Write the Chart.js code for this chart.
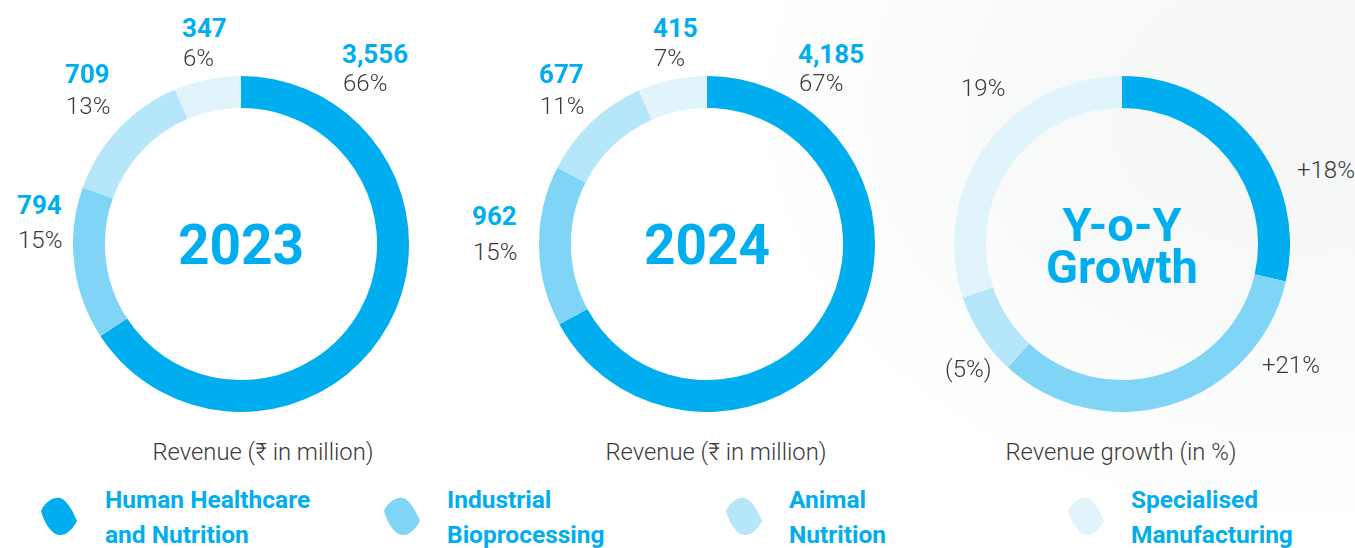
<!DOCTYPE html>
<html>
<head>
<meta charset="utf-8">
<script src="https://cdn.jsdelivr.net/npm/chart.js@4.4.1/dist/chart.umd.min.js"></script>
<style>
  html, body { margin:0; padding:0; }
  body { width:1355px; height:548px; position:relative; overflow:hidden; font-family: Roboto, "Noto Sans", sans-serif;
    background: radial-gradient(ellipse 560px 420px at 1300px 110px, #f5f7f7 0%, #f8f9f9 50%, #ffffff 100%); }
  .t { position:absolute; white-space:nowrap; line-height:1; transform: translateY(-50%); }
  .c { transform: translate(-50%,-50%); }
  .num { font-weight:700; color:#00aeef; font-size:26px; }
  .pct { font-weight:300; color:#3a3a3a; font-size:24px; }
  .big { font-weight:700; color:#00aeef; }
  .cap { font-weight:300; color:#3a3a3a; font-size:23.8px; }
  .leg { font-weight:700; color:#00aeef; font-size:24.5px; }
  canvas { position:absolute; }
</style>
</head>
<body>
<script>
// ---------- DATA ----------
const categories = ["Human Healthcare and Nutrition", "Industrial Bioprocessing", "Animal Nutrition", "Specialised Manufacturing"];
const legendLines = [["Human Healthcare", "and Nutrition"], ["Industrial", "Bioprocessing"], ["Animal", "Nutrition"], ["Specialised", "Manufacturing"]];
const revenue2023 = [3556, 794, 709, 347];
const share2023 = [66, 15, 13, 6];
const revenue2024 = [4185, 962, 677, 415];
const share2024 = [67, 15, 11, 7];
const growthPct = [18, 21, -5, 19];
const growthLabels = ["+18%", "+21%", "(5%)", "19%"];
const centerTitles = [["2023"], ["2024"], ["Y-o-Y", "Growth"]];
const captions = ["Revenue (\u20B9 in million)", "Revenue (\u20B9 in million)", "Revenue growth (in %)"];
const colors = ["#00aeef", "#80d5f6", "#b5e6f9", "#e1f4fc"];

// ---------- LAYOUT ----------
const R = 168;
const centers = [[241, 244], [707, 244], [1122, 244]];
const captionPos = [[263, 453], [716, 453], [1121, 453]];
// label anchor: [left x, value y, pct y]
const labelPos2023 = [[342, 54, 83], [17, 205, 240], [65, 74, 106], [182, 28, 58]];
const labelPos2024 = [[798, 54, 83], [472, 216, 252], [539, 74, 106], [653, 28, 58]];
const labelPosGrowth = [[1297, 170], [1262, 365], [945, 369], [961, 88]];
const legendX = [[40, 105], [383, 447], [725, 789], [1067, 1131]];

function addText(cls, txt, x, y, extra) {
  const d = document.createElement('div');
  d.className = 't ' + cls;
  d.textContent = txt;
  d.style.left = x + 'px';
  d.style.top = y + 'px';
  if (extra) Object.assign(d.style, extra);
  document.body.appendChild(d);
  return d;
}

function makeDonut(idx, values) {
  const cv = document.createElement('canvas');
  cv.width = 2 * R; cv.height = 2 * R;
  cv.style.left = (centers[idx][0] - R) + 'px';
  cv.style.top = (centers[idx][1] - R) + 'px';
  cv.style.width = 2 * R + 'px'; cv.style.height = 2 * R + 'px';
  document.body.appendChild(cv);
  new Chart(cv, {
    type: 'doughnut',
    data: { labels: categories, datasets: [{ data: values, backgroundColor: colors, borderWidth: 0, hoverOffset: 0 }] },
    options: {
      responsive: false, animation: false, cutout: '81%',
      layout: { padding: 0 },
      plugins: { legend: { display: false }, tooltip: { enabled: false } }
    }
  });
}

makeDonut(0, revenue2023);
makeDonut(1, revenue2024);
makeDonut(2, growthPct.map(v => Math.abs(v)));

const fmt = v => v.toLocaleString('en-US');
revenue2023.forEach((v, i) => {
  addText('num', fmt(v), labelPos2023[i][0], labelPos2023[i][1]);
  addText('pct', share2023[i] + '%', labelPos2023[i][0] + 1, labelPos2023[i][2]);
});
revenue2024.forEach((v, i) => {
  addText('num', fmt(v), labelPos2024[i][0], labelPos2024[i][1]);
  addText('pct', share2024[i] + '%', labelPos2024[i][0] + 1, labelPos2024[i][2]);
});
growthLabels.forEach((t, i) => addText('pct', t, labelPosGrowth[i][0], labelPosGrowth[i][1]));

// center titles
addText('big c', centerTitles[0][0], centers[0][0], centers[0][1] + 1, { fontSize: '55px' });
addText('big c', centerTitles[1][0], centers[1][0], centers[1][1] + 1, { fontSize: '55px' });
addText('big c', centerTitles[2][0], centers[2][0], 224, { fontSize: '47px' });
addText('big c', centerTitles[2][1], centers[2][0], 266, { fontSize: '47px' });

captions.forEach((c, i) => addText('cap c', c, captionPos[i][0], captionPos[i][1]));

// legend
legendLines.forEach((lines, i) => {
  const svg = document.createElementNS('http://www.w3.org/2000/svg', 'svg');
  svg.setAttribute('width', '40'); svg.setAttribute('height', '40');
  svg.style.position = 'absolute';
  svg.style.left = (legendX[i][0]) + 'px';
  svg.style.top = '497px';
  const p = document.createElementNS('http://www.w3.org/2000/svg', 'path');
  p.setAttribute('d', 'M1,14 C5,5 13,0 20,1 C26,2 33,14 37,24 C33,32 26,39 19,38 C11,37 4,25 1,14 Z');
  p.setAttribute('fill', colors[i]);
  svg.appendChild(p);
  document.body.appendChild(svg);
  addText('leg', lines[0], legendX[i][1], 500);
  addText('leg', lines[1], legendX[i][1], 535);
});
</script>
</body>
</html>
